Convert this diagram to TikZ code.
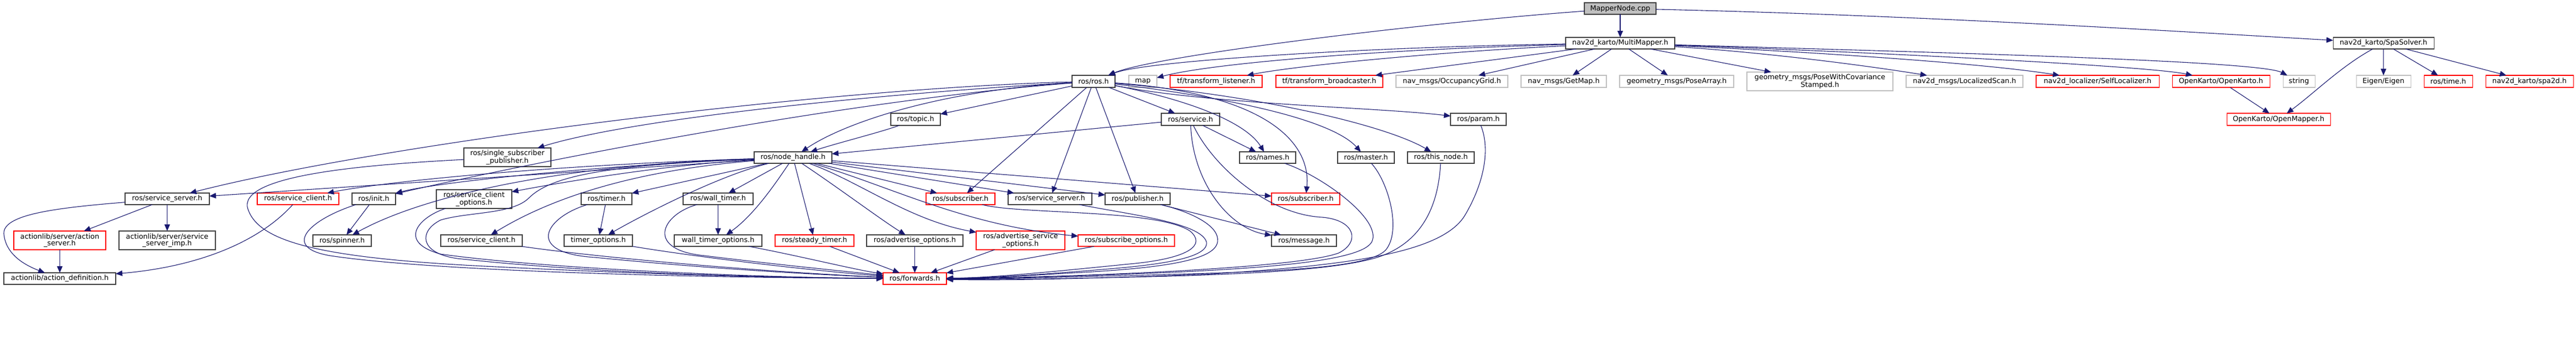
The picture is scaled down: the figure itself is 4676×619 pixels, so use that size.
\documentclass[tikz,border=0pt]{standalone}
\usepackage{fontspec}
\setmainfont{DejaVu Sans}
\usetikzlibrary{arrows.meta}
\definecolor{mblue}{HTML}{191970}
\definecolor{gA}{HTML}{404040}
\definecolor{gB}{HTML}{BFBFBF}
\definecolor{rd}{HTML}{FF0000}
\newcommand{\bx}[7]{\node[#6, minimum width={(#4-#2)*1pt}, minimum height={(#5-#3)*1pt}] (#1) at ({(#2+#4)/2},{(#3+#5)/2}) {#7};}
\tikzset{
  nb/.style={draw=gA, fill=white, line width=1.1pt, inner sep=0pt, outer sep=0pt, align=center,
    font={\fontsize{12.8pt}{12.7pt}\selectfont}},
  nr/.style={nb, draw=rd},
  ng/.style={nb, draw=gB},
  nmain/.style={nb, fill=gB},
  e/.style={draw=mblue, line width=1.1pt, -{Triangle[length=12pt,width=10pt]}}
}
\begin{document}
\begin{tikzpicture}[x=1pt,y=-1pt]
\useasboundingbox[fill=white] (0,0) rectangle (4676,619);
% row 0,1
\bx{A}{2876}{5}{3006}{26}{nmain}{MapperNode.cpp}
\bx{MM}{2842}{68}{3040}{89}{nb}{nav2d\_karto/MultiMapper.h}
\bx{SS}{4235}{68}{4418}{89}{nb}{nav2d\_karto/SpaSolver.h}
% row 2
\bx{ros}{1946}{137}{2024}{159}{nb}{ros/ros.h}
\bx{map}{2049}{137}{2100}{159}{ng}{map}
\bx{tfl}{2124}{137}{2291}{159}{nr}{tf/transform\_listener.h}
\bx{tfb}{2316}{137}{2510}{159}{nr}{tf/transform\_broadcaster.h}
\bx{occ}{2534}{137}{2737}{159}{ng}{nav\_msgs/OccupancyGrid.h}
\bx{getmap}{2761}{137}{2916}{159}{ng}{nav\_msgs/GetMap.h}
\bx{posearr}{2940}{137}{3147}{159}{ng}{geometry\_msgs/PoseArray.h}
\bx{pwcs}{3171}{131}{3436}{165}{ng}{geometry\_msgs/PoseWithCovariance\\Stamped.h}
\bx{lscan}{3460}{137}{3672}{159}{ng}{nav2d\_msgs/LocalizedScan.h}
\bx{selfloc}{3696}{137}{3919}{159}{nr}{nav2d\_localizer/SelfLocalizer.h}
\bx{okarto}{3943}{137}{4120}{159}{nr}{OpenKarto/OpenKarto.h}
\bx{strg}{4144}{137}{4202}{159}{ng}{string}
\bx{eigen}{4277}{137}{4376}{159}{ng}{Eigen/Eigen}
\bx{rtime}{4400}{137}{4488}{159}{nr}{ros/time.h}
\bx{spa}{4512}{137}{4671}{159}{nr}{nav2d\_karto/spa2d.h}
% row 3
\bx{topic}{1617}{206}{1707}{228}{nb}{ros/topic.h}
\bx{service}{2108}{206}{2214}{228}{nb}{ros/service.h}
\bx{param}{2633}{206}{2734}{228}{nb}{ros/param.h}
\bx{omap}{4042}{206}{4230}{228}{nr}{OpenKarto/OpenMapper.h}
% row 4
\bx{ssp}{842}{269}{1000}{303}{nb}{ros/single\_subscriber\\\_publisher.h}
\bx{nh}{1369}{276}{1510}{297}{nb}{ros/node\_handle.h}
\bx{names}{2250}{276}{2352}{297}{nb}{ros/names.h}
\bx{master}{2428}{276}{2531}{297}{nb}{ros/master.h}
\bx{thisnode}{2555}{276}{2676}{297}{nb}{ros/this\_node.h}
% row 5
\bx{ssrvA}{227}{351}{380}{372}{nb}{ros/service\_server.h}
\bx{sclA}{467}{351}{615}{372}{nr}{ros/service\_client.h}
\bx{init}{639}{351}{718}{372}{nb}{ros/init.h}
\bx{sco}{792}{345}{929}{379}{nb}{ros/service\_client\\\_options.h}
\bx{timer}{1055}{351}{1147}{372}{nb}{ros/timer.h}
\bx{wtimer}{1240}{351}{1367}{372}{nb}{ros/wall\_timer.h}
\bx{subA}{1681}{351}{1806}{372}{nr}{ros/subscriber.h}
\bx{ssrvB}{1830}{351}{1982}{372}{nb}{ros/service\_server.h}
\bx{pub}{2006}{351}{2124}{372}{nb}{ros/publisher.h}
\bx{subB}{2308}{351}{2432}{372}{nr}{ros/subscriber.h}
% row 6
\bx{asrv}{25}{420}{192}{454}{nr}{actionlib/server/action\\\_server.h}
\bx{ssimp}{216}{420}{391}{454}{nb}{actionlib/server/service\\\_server\_imp.h}
\bx{spinner}{568}{427}{674}{448}{nb}{ros/spinner.h}
\bx{sclB}{800}{427}{948}{448}{nb}{ros/service\_client.h}
\bx{topt}{1024}{427}{1148}{448}{nb}{timer\_options.h}
\bx{wtopt}{1224}{427}{1383}{448}{nb}{wall\_timer\_options.h}
\bx{steady}{1407}{427}{1550}{448}{nr}{ros/steady\_timer.h}
\bx{advopt}{1573}{427}{1748}{448}{nb}{ros/advertise\_options.h}
\bx{asopt}{1772}{420}{1933}{454}{nr}{ros/advertise\_service\\\_options.h}
\bx{subopt}{1957}{427}{2132}{448}{nr}{ros/subscribe\_options.h}
\bx{msg}{2308}{427}{2426}{448}{nb}{ros/message.h}
% row 7
\bx{adef}{7}{496}{210}{517}{nb}{actionlib/action\_definition.h}
\bx{fwd}{1603}{496}{1718}{517}{nr}{ros/forwards.h}

% ---- edges: top
\draw[e] (A) -- (MM);
\draw[e] (A) .. controls (2600,40) and (2100,100) .. (ros);
\draw[e] (A) .. controls (3500,28) and (4000,60) .. (SS);
\draw[e] (MM) .. controls (2500,85) and (2080,110) .. (ros);
\draw[e] (MM) .. controls (2500,90) and (2200,115) .. (map);
\draw[e] (MM) .. controls (2600,95) and (2350,120) .. (tfl);
\draw[e] (MM) -- (tfb);
\draw[e] (MM) -- (occ);
\draw[e] (MM) -- (getmap);
\draw[e] (MM) -- (posearr);
\draw[e] (MM) -- (pwcs);
\draw[e] (MM) .. controls (3200,95) and (3380,118) .. (lscan);
\draw[e] (MM) .. controls (3300,95) and (3600,115) .. (selfloc);
\draw[e] (MM) .. controls (3400,95) and (3900,120) .. (okarto);
\draw[e] (MM) .. controls (3500,95) and (4100,110) .. (strg);
\draw[e] (SS) .. controls (4250,120) and (4200,170) .. (omap);
\draw[e] (SS) -- (eigen);
\draw[e] (SS) -- (rtime);
\draw[e] (SS) -- (spa);
\draw[e] (okarto) -- (omap);

% ---- ros/ros.h
\draw[e] (ros) -- (topic);
\draw[e] (ros) .. controls (1700,165) and (1530,225) .. (nh);
\draw[e] (ros) .. controls (1600,170) and (1150,215) .. (ssp);
\draw[e] (ros) .. controls (1500,160) and (700,260) .. (ssrvA);
\draw[e] (ros) .. controls (1500,185) and (900,310) .. (init);
\draw[e] (ros) -- (subA);
\draw[e] (ros) -- (ssrvB);
\draw[e] (ros) -- (pub);
\draw[e] (ros) -- (service);
\draw[e] (ros) .. controls (2150,180) and (2260,220) .. (names);
\draw[e] (ros) .. controls (2250,180) and (2420,220) .. (master);
\draw[e] (ros) .. controls (2300,175) and (2520,230) .. (thisnode);
\draw[e] (ros) .. controls (2200,190) and (2500,195) .. (param);
\draw[e] (ros) .. controls (2300,170) and (2380,260) .. (subB);

% ---- topic, service
\draw[e] (topic) .. controls (1600,240) and (1520,260) .. (nh);
\draw[e] (service) -- (nh);
\draw[e] (service) -- (names);
\draw[e] (service) .. controls (2165,330) and (2230,415) .. (msg);
\draw[e] (service) .. controls (2200,300) and (2300,390) .. (2400,395) .. controls (2460,400) and (2470,440) .. (2430,460) .. controls (2350,490) and (1900,505) .. (fwd);

% ---- node_handle
\draw[e] (nh) -- (ssrvA);
\draw[e] (nh) .. controls (1000,300) and (700,330) .. (sclA);
\draw[e] (nh) .. controls (1100,300) and (800,330) .. (init);
\draw[e] (nh) .. controls (1000,300) and (760,360) .. (spinner);
\draw[e] (nh) .. controls (1200,300) and (1000,335) .. (sco);
\draw[e] (nh) .. controls (1150,310) and (1000,360) .. (sclB);
\draw[e] (nh) -- (timer);
\draw[e] (nh) .. controls (1300,320) and (1150,400) .. (topt);
\draw[e] (nh) -- (wtimer);
\draw[e] (nh) .. controls (1410,330) and (1370,390) .. (wtopt);
\draw[e] (nh) -- (steady);
\draw[e] (nh) .. controls (1520,340) and (1600,400) .. (advopt);
\draw[e] (nh) .. controls (1560,330) and (1650,400) .. (asopt);
\draw[e] (nh) .. controls (1620,340) and (1750,410) .. (subopt);
\draw[e] (nh) -- (subA);
\draw[e] (nh) -- (ssrvB);
\draw[e] (nh) -- (pub);
\draw[e] (nh) -- (subB);
\draw[e] (nh) .. controls (1100,300) and (1000,320) .. (960,360) .. controls (930,390) and (850,385) .. (800,400) .. controls (760,420) and (760,460) .. (830,470) .. controls (1100,500) and (1450,505) .. (fwd);

% ---- left part
\draw[e] (init) -- (spinner);
\draw[e] (init) .. controls (560,400) and (510,450) .. (600,465) .. controls (800,495) and (1300,505) .. (fwd);
\draw[e] (ssp) .. controls (650,300) and (430,320) .. (450,380) .. controls (470,440) and (580,470) .. (900,485) .. controls (1200,500) and (1450,506) .. (fwd);
\draw[e] (sco) .. controls (760,395) and (720,440) .. (800,462) .. controls (1000,490) and (1400,505) .. (fwd);
\draw[e] (sclB) .. controls (1100,470) and (1400,495) .. (fwd);
\draw[e] (timer) -- (topt);
\draw[e] (timer) .. controls (990,395) and (950,460) .. (1080,468) .. controls (1300,490) and (1500,500) .. (fwd);
\draw[e] (wtimer) -- (wtopt);
\draw[e] (wtimer) .. controls (1200,390) and (1170,455) .. (1280,465) .. controls (1400,480) and (1550,495) .. (fwd);
\draw[e] (topt) .. controls (1250,465) and (1450,490) .. (fwd);
\draw[e] (wtopt) .. controls (1450,465) and (1550,490) .. (fwd);
\draw[e] (steady) -- (fwd);
\draw[e] (advopt) -- (fwd);
\draw[e] (asopt) -- (fwd);
\draw[e] (subopt) -- (fwd);

% ---- right part into forwards
\draw[e] (subA) .. controls (1850,390) and (2100,380) .. (2160,420) .. controls (2190,445) and (2160,470) .. (2050,480) .. controls (1900,495) and (1800,505) .. (fwd);
\draw[e] (ssrvB) .. controls (2050,390) and (2180,405) .. (2190,440) .. controls (2195,470) and (2100,482) .. (2000,490) .. controls (1880,500) and (1800,505) .. (fwd);
\draw[e] (pub) .. controls (2160,385) and (2215,410) .. (2210,440) .. controls (2205,475) and (2100,488) .. (1950,496) .. controls (1850,502) and (1790,506) .. (fwd);
\draw[e] (pub) -- (msg);
\draw[e] (names) .. controls (2400,320) and (2510,400) .. (2490,440) .. controls (2470,475) and (2300,490) .. (2000,500) .. controls (1850,505) and (1790,507) .. (fwd);
\draw[e] (master) .. controls (2520,330) and (2545,420) .. (2515,455) .. controls (2480,490) and (2300,495) .. (2000,502) .. controls (1850,506) and (1790,508) .. (fwd);
\draw[e] (thisnode) .. controls (2610,390) and (2570,445) .. (2500,468) .. controls (2420,492) and (2250,500) .. (2000,505) .. controls (1850,508) and (1790,509) .. (fwd);
\draw[e] (param) .. controls (2705,270) and (2695,330) .. (2660,390) .. controls (2620,460) and (2450,482) .. (2200,498) .. controls (1950,508) and (1800,510) .. (fwd);

% ---- actionlib
\draw[e] (sclA) .. controls (470,440) and (360,485) .. (adef);
\draw[e] (ssrvA) -- (asrv);
\draw[e] (ssrvA) -- (ssimp);
\draw[e] (ssrvA) .. controls (100,378) and (5,390) .. (7,425) .. controls (10,460) and (40,480) .. (adef);
\draw[e] (asrv) -- (adef);
\end{tikzpicture}
\end{document}
